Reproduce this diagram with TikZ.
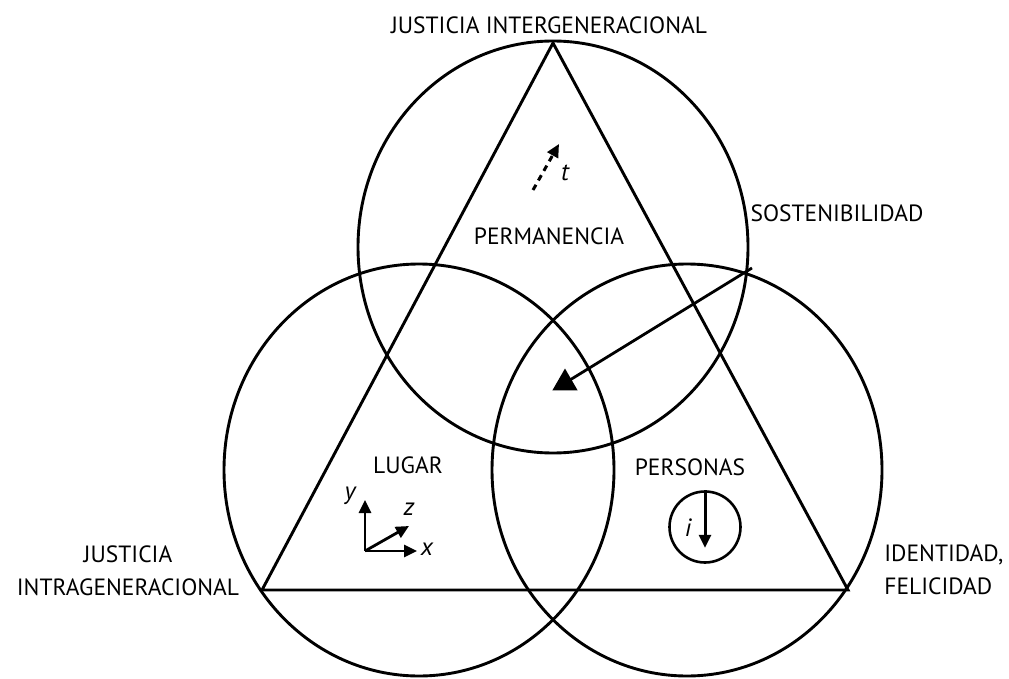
\documentclass[tikz,border=0pt]{standalone}
\usepackage{fontspec}
\setmainfont{PT Sans}
\usetikzlibrary{arrows.meta,shapes.geometric}
\begin{document}
\begin{tikzpicture}[x=1pt,y=-1pt,line width=2.8pt,
  lbl/.style={font=\fontsize{23.5}{33}\selectfont,inner sep=0pt},
  var/.style={font=\fontsize{25}{27}\selectfont\itshape,inner sep=0pt},
  ring/.style={draw,ellipse,inner sep=0pt,minimum width=390pt,minimum height=412pt,line width=2.9pt},
  tip/.style={-{Triangle[length=13pt,width=12pt]}},
  marker/.style={fill,regular polygon,regular polygon sides=3,inner sep=0pt,minimum size=29pt}]
\useasboundingbox (0,0) rectangle (1009,679);
% circles
\node[ring] (ctop) at (553,247) {};
\node[ring] (cleft) at (419,470) {};
\node[ring] (cright) at (687,470) {};
% triangle
\coordinate (va) at (553,43);
\coordinate (vb) at (262,590);
\coordinate (vc) at (848,590);
\draw[line join=miter,line width=2.9pt] (va) -- (vb) -- (vc) -- cycle;
% labels
\node[lbl] (jinter) at (549,25) {JUSTICIA INTERGENERACIONAL};
\node[lbl] (sost) at (837,213) {SOSTENIBILIDAD};
\node[lbl] (perm) at (549,236) {PERMANENCIA};
\node[lbl] (lugar) at (408,465) {LUGAR};
\node[lbl] (pers) at (690,467) {PERSONAS};
\node[lbl,align=center] (jintra) at (128,571) {JUSTICIA\\INTRAGENERACIONAL};
\node[lbl,align=left,anchor=west] (ident) at (883,570) {IDENTIDAD,\\FELICIDAD};
% sostenibilidad pointer
\node[marker] (mk) at (565,383) {};
\coordinate (sstart) at (752,268);
\draw (sstart) -- (mk.center);
% time arrow
\coordinate (t0) at (533,190);
\coordinate (t1) at (559,144);
\draw[tip,line width=3pt,dash pattern=on 6pt off 5pt] (t0) -- (t1);
\node[var] (tl) at (565,173) {t};
% axes
\coordinate (o) at (365,551);
\coordinate (ax) at (417,551);
\coordinate (ay) at (365,500);
\coordinate (az) at (409,526);
\draw[tip] (o) -- (ax);
\draw[tip] (o) -- (ay);
\draw[tip] (o) -- (az);
\node[var] (xl) at (427,549) {x};
\node[var] (yl) at (350,496) {y};
\node[var] (zl) at (409,509) {z};
% person circle
\node[draw,circle,minimum size=71pt,inner sep=0pt,line width=2.6pt] (pc) at (705,527) {};
\draw[tip,line width=3pt] (pc.north) -- ([yshift=16pt]pc.south);
\node[var] (il) at (688,528) {i};
\end{tikzpicture}
\end{document}
